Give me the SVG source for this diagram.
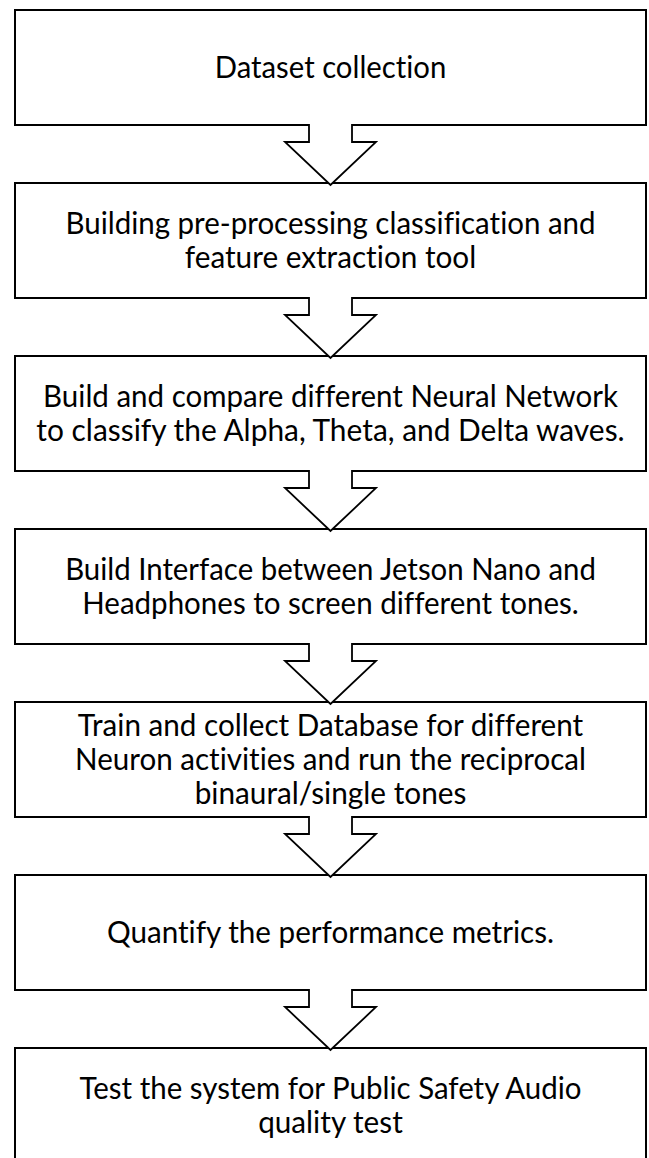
<svg xmlns="http://www.w3.org/2000/svg" width="649" height="1158" viewBox="0 0 649 1158">
<style>
.box{fill:#fff;stroke:#000;stroke-width:2}
.arr{fill:#fff;stroke:#000;stroke-width:1.8;stroke-linejoin:miter}
text{font-family:Lato,"Open Sans","Liberation Sans",sans-serif;font-size:30px;fill:#000;text-anchor:middle;font-variant-ligatures:none;font-feature-settings:"liga" 0}
</style>
<rect width="649" height="1158" fill="#fff"/>
<g id="n1"><rect class="box" x="15" y="10" width="631" height="115"/>
<text x="330.5" y="77.5" textLength="231.5" lengthAdjust="spacingAndGlyphs">Dataset collection</text></g>
<g id="n2"><rect class="box" x="15" y="183" width="631" height="115"/>
<text x="330.5" y="233.5" textLength="530" lengthAdjust="spacingAndGlyphs">Building pre-processing classification and</text>
<text x="330.5" y="267.5" textLength="291.4" lengthAdjust="spacingAndGlyphs">feature extraction tool</text></g>
<g id="n3"><rect class="box" x="15" y="356" width="631" height="115"/>
<text x="330.5" y="406.5" textLength="574.8" lengthAdjust="spacingAndGlyphs">Build and compare different Neural Network</text>
<text x="330.5" y="440.5" textLength="588.3" lengthAdjust="spacingAndGlyphs">to classify the Alpha, Theta, and Delta waves.</text></g>
<g id="n4"><rect class="box" x="15" y="529" width="631" height="115"/>
<text x="330.5" y="579.5" textLength="530.7" lengthAdjust="spacingAndGlyphs">Build Interface between Jetson Nano and</text>
<text x="330.5" y="613.5" textLength="496.5" lengthAdjust="spacingAndGlyphs">Headphones to screen different tones.</text></g>
<g id="n5"><rect class="box" x="15" y="702" width="631" height="115"/>
<text x="330.5" y="735.5" textLength="505.4" lengthAdjust="spacingAndGlyphs">Train and collect Database for different</text>
<text x="330.5" y="769.5" textLength="510.9" lengthAdjust="spacingAndGlyphs">Neuron activities and run the reciprocal</text>
<text x="330.5" y="803.5" textLength="271.7" lengthAdjust="spacingAndGlyphs">binaural/single tones</text></g>
<g id="n6"><rect class="box" x="15" y="875" width="631" height="115"/>
<text x="330.5" y="942.5" textLength="447" lengthAdjust="spacingAndGlyphs">Quantify the performance metrics.</text></g>
<g id="n7"><rect class="box" x="15" y="1048" width="631" height="116"/>
<text x="330.5" y="1098.5" textLength="502" lengthAdjust="spacingAndGlyphs">Test the system for Public Safety Audio</text>
<text x="330.5" y="1132.5" textLength="144.6" lengthAdjust="spacingAndGlyphs">quality test</text></g>
<g id="connectors">
<path class="arr" d="M309,124 V142 H285 L330.5,185 L376,142 H352 V124"/>
<path class="arr" d="M309,297 V315 H285 L330.5,358 L376,315 H352 V297"/>
<path class="arr" d="M309,470 V488 H285 L330.5,531 L376,488 H352 V470"/>
<path class="arr" d="M309,643 V661 H285 L330.5,704 L376,661 H352 V643"/>
<path class="arr" d="M309,816 V834 H285 L330.5,877 L376,834 H352 V816"/>
<path class="arr" d="M309,989 V1007 H285 L330.5,1050 L376,1007 H352 V989"/>
</g>
</svg>
